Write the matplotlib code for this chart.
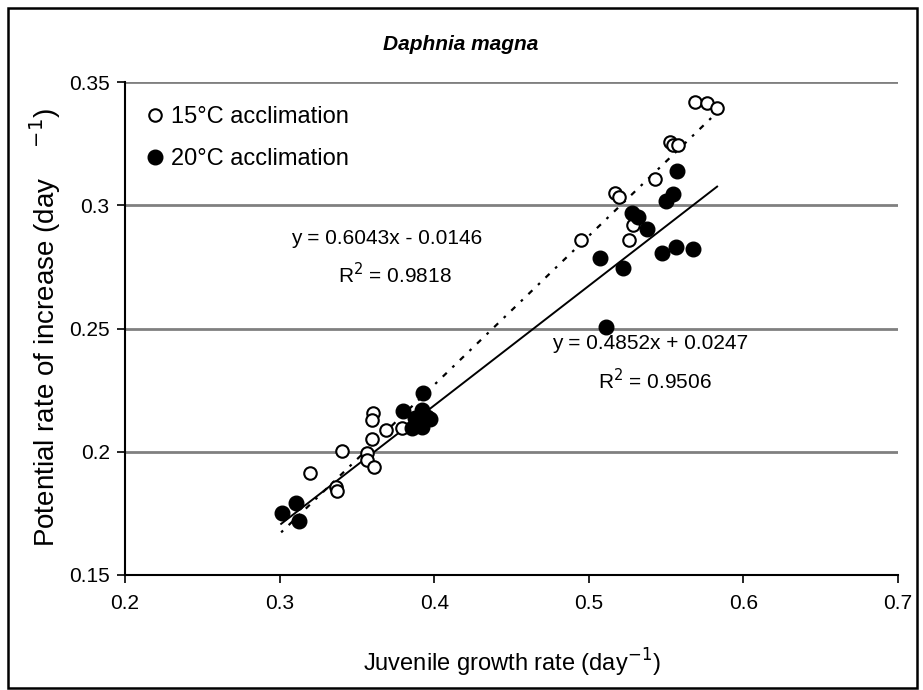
import matplotlib
matplotlib.use("Agg")
import matplotlib.pyplot as plt
from matplotlib.patches import Rectangle

plt.rcParams['font.family'] = ['Liberation Sans', 'DejaVu Sans']

# 15 °C acclimation (open circles)
x15 = [0.3197, 0.3404, 0.3365, 0.3371, 0.3604, 0.3598, 0.3598, 0.3688, 0.3565,
       0.3565, 0.3610, 0.3792, 0.4950, 0.5170, 0.5195, 0.5260, 0.5286, 0.5428,
       0.5525, 0.5545, 0.5577, 0.5687, 0.5765, 0.5830]
y15 = [0.1914, 0.2003, 0.1857, 0.1841, 0.2157, 0.2129, 0.2052, 0.2088, 0.1995,
       0.1967, 0.1938, 0.2096, 0.2858, 0.3050, 0.3033, 0.2859, 0.2920, 0.3107,
       0.3257, 0.3244, 0.3244, 0.3419, 0.3415, 0.3395]

# 20 °C acclimation (filled circles)
x20 = [0.3015, 0.3106, 0.3125, 0.3798, 0.3856, 0.3876, 0.3920, 0.3920, 0.3928,
       0.3953, 0.3973, 0.5072, 0.5110, 0.5221, 0.5280, 0.5318, 0.5377, 0.5473,
       0.5500, 0.5545, 0.5564, 0.5570, 0.5674]
y20 = [0.1752, 0.1792, 0.1719, 0.2165, 0.2096, 0.2137, 0.2100, 0.2169, 0.2238,
       0.2141, 0.2133, 0.2786, 0.2505, 0.2745, 0.2969, 0.2952, 0.2904, 0.2806,
       0.3017, 0.3046, 0.2831, 0.3139, 0.2823]

# Linear fits (slope, intercept, R²) and their drawn x-range
fit15 = (0.6043, -0.0146, 0.9818)
fit20 = (0.4852, 0.0247, 0.9506)
fit_x = [0.301, 0.583]

x_ticks = [0.2, 0.3, 0.4, 0.5, 0.6, 0.7]
y_ticks = [0.15, 0.2, 0.25, 0.3, 0.35]

W, H = 923, 690
fig = plt.figure(figsize=(W / 100, H / 100), dpi=100)
ax = fig.add_axes([125 / W, 1 - 575 / H, (898 - 125) / W, (575 - 82) / H])

ax.set_xlim(0.2, 0.7)
ax.set_ylim(0.15, 0.35)
ax.set_xticks(x_ticks)
ax.set_yticks(y_ticks)
ax.set_xticklabels([f"{v:g}" for v in x_ticks])
ax.set_yticklabels([f"{v:g}" for v in y_ticks])
ax.tick_params(direction='out', length=6, width=1.2, labelsize=15, color='black')
ax.tick_params(axis='x', pad=8)
ax.tick_params(axis='y', pad=5)

for v in y_ticks[1:]:
    ax.axhline(v, color='#808080', lw=2.0, zorder=0)

for s in ('top', 'right'):
    ax.spines[s].set_visible(False)
for s in ('left', 'bottom'):
    ax.spines[s].set_linewidth(1.5)
    ax.spines[s].set_color('black')

# trend lines
def line(fit):
    m, b, _ = fit
    return [m * x + b for x in fit_x]

ax.plot(fit_x, line(fit15), color='black', lw=1.6, linestyle=(0, (1.2, 3.5, 2.5, 3.5)), zorder=2)
ax.plot(fit_x, line(fit20), color='black', lw=1.4, linestyle='-', zorder=2)

ax.plot(x15, y15, linestyle='none', marker='o', markersize=9, markerfacecolor='white',
        markeredgecolor='black', markeredgewidth=1.5, label='15°C acclimation', zorder=3)
ax.plot(x20, y20, linestyle='none', marker='o', markersize=10.5, markerfacecolor='black',
        markeredgecolor='black', label='20°C acclimation', zorder=3)

leg = ax.legend(loc='upper left', bbox_to_anchor=(0.0, 0.985), frameon=False, fontsize=17,
                handletextpad=0.15, handlelength=1.1, labelspacing=0.85, borderaxespad=0.3)

def eq_text(fit):
    m, b, _ = fit
    sign = '-' if b < 0 else '+'
    return f"y = {m:.4f}x {sign} {abs(b):.4f}"

ax.text(0.3695, 0.2867, eq_text(fit15), fontsize=15, ha='center', va='center')
ax.text(0.3746, 0.2717, f"R$^2$ = {fit15[2]:.4f}", fontsize=15, ha='center', va='center')
ax.text(0.5396, 0.2441, eq_text(fit20), fontsize=15, ha='center', va='center')
ax.text(0.5428, 0.2287, f"R$^2$ = {fit20[2]:.4f}", fontsize=15, ha='center', va='center')

fig.text(461 / W, 1 - 45 / H, "Daphnia magna", fontsize=15, fontweight='bold',
         fontstyle='italic', ha='center', va='center')
fig.text(512 / W, 1 - 663 / H, "Juvenile growth rate (day$^{-1}$)", fontsize=17,
         ha='center', va='center')
fig.text(45 / W, 1 - 328 / H, "Potential rate of increase (day    $^{-1}$)", fontsize=20,
         ha='center', va='center', rotation=90)

# chart border
fig.add_artist(Rectangle((8 / W, 2 / H), (917 - 8) / W, (682 - 2) / H, transform=fig.transFigure,
                         fill=False, edgecolor='black', lw=1.8))

fig.savefig("out.png", dpi=100)
